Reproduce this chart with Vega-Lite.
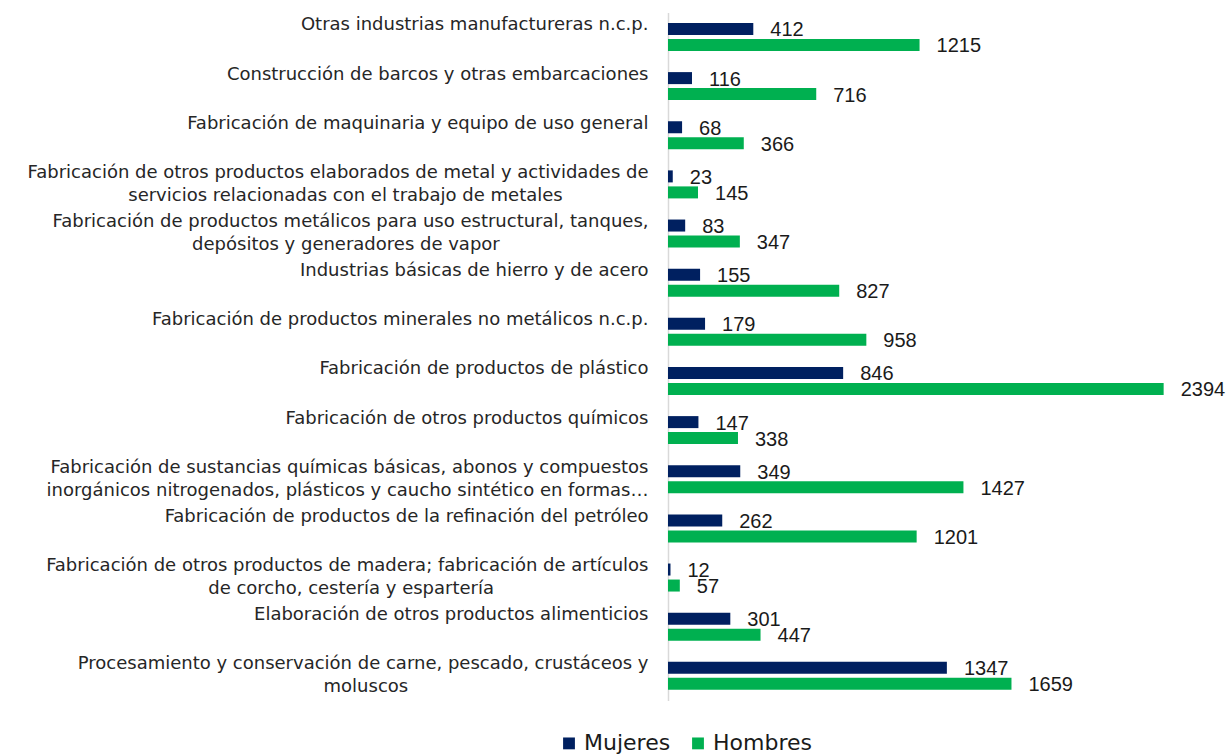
{
  "$schema": "https://vega.github.io/schema/vega-lite/v6.json",
  "width": 559,
  "height": 688,
  "autosize": {"type": "none"},
  "padding": {"left": 668, "top": 12.4, "right": 3, "bottom": 54.6},
  "background": "white",
  "config": {"view": {"stroke": null}},
  "data": {
    "values": [
      {"orden": 1, "sector": "Otras industrias manufactureras n.c.p.", "sexo": "Mujeres", "valor": 412},
      {"orden": 1, "sector": "Otras industrias manufactureras n.c.p.", "sexo": "Hombres", "valor": 1215},
      {"orden": 2, "sector": "Construcción de barcos y otras embarcaciones", "sexo": "Mujeres", "valor": 116},
      {"orden": 2, "sector": "Construcción de barcos y otras embarcaciones", "sexo": "Hombres", "valor": 716},
      {"orden": 3, "sector": "Fabricación de maquinaria y equipo de uso general", "sexo": "Mujeres", "valor": 68},
      {"orden": 3, "sector": "Fabricación de maquinaria y equipo de uso general", "sexo": "Hombres", "valor": 366},
      {"orden": 4, "sector": "Fabricación de otros productos elaborados de metal y actividades de|servicios relacionadas con el trabajo de metales", "sexo": "Mujeres", "valor": 23},
      {"orden": 4, "sector": "Fabricación de otros productos elaborados de metal y actividades de|servicios relacionadas con el trabajo de metales", "sexo": "Hombres", "valor": 145},
      {"orden": 5, "sector": "Fabricación de productos metálicos para uso estructural, tanques,|depósitos y generadores de vapor", "sexo": "Mujeres", "valor": 83},
      {"orden": 5, "sector": "Fabricación de productos metálicos para uso estructural, tanques,|depósitos y generadores de vapor", "sexo": "Hombres", "valor": 347},
      {"orden": 6, "sector": "Industrias básicas de hierro y de acero", "sexo": "Mujeres", "valor": 155},
      {"orden": 6, "sector": "Industrias básicas de hierro y de acero", "sexo": "Hombres", "valor": 827},
      {"orden": 7, "sector": "Fabricación de productos minerales no metálicos n.c.p.", "sexo": "Mujeres", "valor": 179},
      {"orden": 7, "sector": "Fabricación de productos minerales no metálicos n.c.p.", "sexo": "Hombres", "valor": 958},
      {"orden": 8, "sector": "Fabricación de productos de plástico", "sexo": "Mujeres", "valor": 846},
      {"orden": 8, "sector": "Fabricación de productos de plástico", "sexo": "Hombres", "valor": 2394},
      {"orden": 9, "sector": "Fabricación de otros productos químicos", "sexo": "Mujeres", "valor": 147},
      {"orden": 9, "sector": "Fabricación de otros productos químicos", "sexo": "Hombres", "valor": 338},
      {"orden": 10, "sector": "Fabricación de sustancias químicas básicas, abonos y compuestos|inorgánicos nitrogenados, plásticos y caucho sintético en formas…", "sexo": "Mujeres", "valor": 349},
      {"orden": 10, "sector": "Fabricación de sustancias químicas básicas, abonos y compuestos|inorgánicos nitrogenados, plásticos y caucho sintético en formas…", "sexo": "Hombres", "valor": 1427},
      {"orden": 11, "sector": "Fabricación de productos de la refinación del petróleo", "sexo": "Mujeres", "valor": 262},
      {"orden": 11, "sector": "Fabricación de productos de la refinación del petróleo", "sexo": "Hombres", "valor": 1201},
      {"orden": 12, "sector": "Fabricación de otros productos de madera; fabricación de artículos|de corcho, cestería y espartería", "sexo": "Mujeres", "valor": 12},
      {"orden": 12, "sector": "Fabricación de otros productos de madera; fabricación de artículos|de corcho, cestería y espartería", "sexo": "Hombres", "valor": 57},
      {"orden": 13, "sector": "Elaboración de otros productos alimenticios", "sexo": "Mujeres", "valor": 301},
      {"orden": 13, "sector": "Elaboración de otros productos alimenticios", "sexo": "Hombres", "valor": 447},
      {"orden": 14, "sector": "Procesamiento y conservación de carne, pescado, crustáceos y|moluscos", "sexo": "Mujeres", "valor": 1347},
      {"orden": 14, "sector": "Procesamiento y conservación de carne, pescado, crustáceos y|moluscos", "sexo": "Hombres", "valor": 1659}
    ]
  },
  "encoding": {
    "y": {
      "field": "sector",
      "type": "nominal",
      "sort": {"field": "orden", "op": "min", "order": "ascending"},
      "scale": {"paddingInner": 0.43, "paddingOuter": 0.215},
      "axis": {
        "title": null,
        "ticks": false,
        "grid": false,
        "domain": true,
        "domainColor": "#d9d9d9",
        "domainWidth": 1.5,
        "labelFont": "DejaVu Sans",
        "labelFontSize": 18,
        "labelColor": "#262626",
        "labelPadding": 20,
        "labelLimit": 0,
        "labelLineHeight": 23,
        "labelBaseline": "middle",
        "labelAlign": "right",
        "labelOffset": -11.5,
        "labelExpr": "indexof(datum.label,'|')>=0 ? [split(datum.label,'|')[0], pad(split(datum.label,'|')[1], length(split(datum.label,'|')[1]) + round((length(split(datum.label,'|')[0]) - length(split(datum.label,'|')[1]))*0.8), '\u00a0') + '\u200b'] : datum.label"
      }
    },
    "yOffset": {
      "field": "sexo",
      "type": "nominal",
      "sort": ["Mujeres", "Hombres"],
      "scale": {"paddingInner": 0.25, "paddingOuter": 0}
    },
    "x": {
      "field": "valor",
      "type": "quantitative",
      "scale": {"domain": [0, 2700]},
      "axis": null
    }
  },
  "layer": [
    {
      "mark": {"type": "bar"},
      "encoding": {
        "color": {
          "field": "sexo",
          "type": "nominal",
          "scale": {"domain": ["Mujeres", "Hombres"], "range": ["#002060", "#00B050"]},
          "legend": {
            "title": null,
            "orient": "none",
            "legendX": -110,
            "legendY": 720,
            "direction": "horizontal",
            "symbolType": "square",
            "symbolSize": 140,
            "symbolStrokeWidth": 0,
            "labelFont": "DejaVu Sans",
            "labelFontSize": 22,
            "labelColor": "#1a1a1a",
            "labelOffset": 4,
            "columnPadding": 16,
            "padding": 0
          }
        }
      }
    },
    {
      "mark": {"type": "text", "align": "left", "baseline": "middle", "dx": 17, "dy": 1.5, "font": "Liberation Sans", "fontSize": 20, "color": "#1a1a1a"},
      "encoding": {
        "text": {"field": "valor", "type": "quantitative", "format": "d"}
      }
    }
  ]
}
